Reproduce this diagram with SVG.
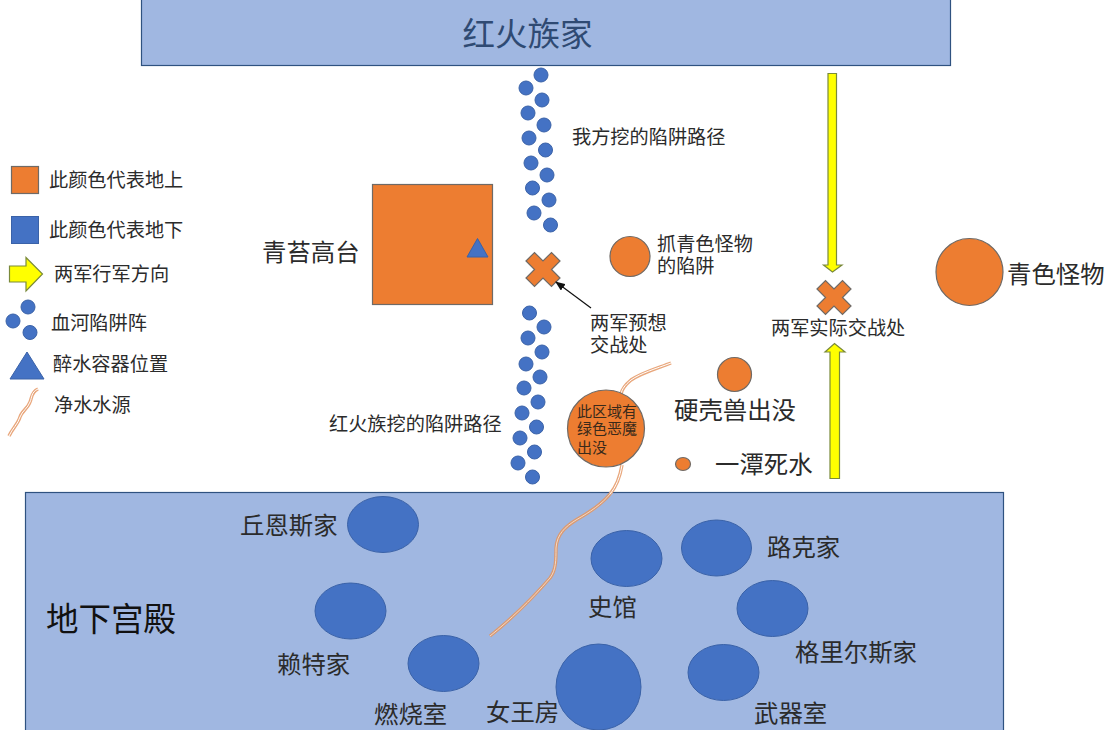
<svg xmlns="http://www.w3.org/2000/svg" width="1110" height="730" viewBox="0 0 1110 730">
<style>
text{font-family:"Liberation Sans","Noto Sans CJK SC",sans-serif;fill:#2b2b2b}
.s{font-size:19.200px}.m{font-size:24.400px}.t{font-size:15px}
.panel{fill:#a0b7e1;stroke:#2f5280;stroke-width:1.2}
.o{fill:#ed7d31;stroke:#6f6a66;stroke-width:1.2}
.b{fill:#4472c4;stroke:#3a62a8;stroke-width:1}
.y{fill:#ffff00;stroke:#7a8a3a;stroke-width:1.2}
.w1{fill:none;stroke:#e9a77c;stroke-width:3.4}
.w2{fill:none;stroke:#fff;stroke-width:1}
.w3{fill:none;stroke:#d99a74;stroke-width:3.4}
.w4{fill:none;stroke:#f3d9c5;stroke-width:1}
</style>
<defs>
<marker id="ah" markerWidth="10" markerHeight="8" refX="9" refY="4" orient="auto" markerUnits="userSpaceOnUse"><path d="M0 0L10 4L0 8z" fill="#111"/></marker>
<circle id="d" r="7" class="b"/>
<path id="x" d="M-17 -8.500L-8.500 -17L0 -8.500L8.500 -17L17 -8.500L8.500 0L17 8.500L8.500 17L0 8.500L-8.500 17L-17 8.500L-8.500 0z" class="o"/>
</defs>
<rect width="1110" height="730" fill="#fff"/>

<g id="red-fire-home"><rect class="panel" x="141.500" y="-2" width="809" height="67.500"/><text x="527.500" y="46" font-size="32.500" text-anchor="middle" style="fill:#2f4a73">红火族家</text></g>
<g id="underground-palace"><rect class="panel" x="25.500" y="492.500" width="978" height="240"/><text x="46" y="631" font-size="32.500" style="fill:#111">地下宫殿</text></g>

<g id="legend">
<rect x="11.500" y="166.500" width="27" height="27" class="o"/><text class="s" x="49" y="187">此颜色代表地上</text>
<rect x="11.500" y="216.500" width="27" height="27" class="b"/><text class="s" x="49" y="237">此颜色代表地下</text>
<path class="y" d="M9.500 266H26V257.500L42.500 274L26 291V282H9.500z"/><text class="s" x="54" y="281">两军行军方向</text>
<use href="#d" x="28" y="307"/><use href="#d" x="13" y="321"/><use href="#d" x="30" y="332.500"/><text class="s" x="51" y="330">血河陷阱阵</text>
<path class="b" d="M10 379L27 352L44 379z"/><text class="s" x="53" y="371">醉水容器位置</text>
<g><path class="w1" d="M38 389C31 392 32 398 30 402C28 408 22 411 20 417C18 424 12 429 9 436"/><path class="w2" d="M38 389C31 392 32 398 30 402C28 408 22 411 20 417C18 424 12 429 9 436"/></g><text class="s" x="54" y="412">净水水源</text>
</g>

<g id="my-trap-path">
<use href="#d" x="541" y="75"/><use href="#d" x="526" y="88"/><use href="#d" x="542" y="100"/><use href="#d" x="528" y="113"/><use href="#d" x="544" y="125"/><use href="#d" x="529" y="138"/><use href="#d" x="545.500" y="150"/><use href="#d" x="531" y="163"/><use href="#d" x="547" y="175"/><use href="#d" x="532.500" y="188"/><use href="#d" x="549" y="200"/><use href="#d" x="534" y="213"/><use href="#d" x="550.500" y="225"/>
<text class="s" x="572" y="144">我方挖的陷阱路径</text>
</g>
<g id="enemy-trap-path">
<use href="#d" x="529.500" y="313"/><use href="#d" x="544" y="327"/><use href="#d" x="528" y="338"/><use href="#d" x="542" y="352"/><use href="#d" x="526" y="364"/><use href="#d" x="540" y="377"/><use href="#d" x="524" y="388"/><use href="#d" x="538" y="402"/><use href="#d" x="522" y="413"/><use href="#d" x="536.500" y="427"/><use href="#d" x="520" y="438"/><use href="#d" x="534.500" y="452"/><use href="#d" x="518" y="463"/><use href="#d" x="532.500" y="477"/>
<text class="s" x="329" y="431">红火族挖的陷阱路径</text>
</g>

<g id="moss-platform"><rect class="o" x="372.500" y="184.500" width="120" height="120"/><path class="b" d="M467 257L477.500 238.500L488 257z"/><text class="m" x="262" y="261">青苔高台</text></g>
<g id="expected-battle"><use href="#x" x="543" y="269.500"/><text class="s" x="590" y="330">两军预想</text><text class="s" x="590" y="352">交战处</text></g>
<g id="cyan-trap"><circle class="o" cx="630" cy="256.500" r="20"/><text class="s" x="657" y="251">抓青色怪物</text><text class="s" x="657" y="273">的陷阱</text></g>
<g id="cyan-monster"><circle class="o" cx="969.500" cy="272" r="33.500"/><text class="m" x="1007" y="283">青色怪物</text></g>
<g id="actual-battle"><use href="#x" x="834" y="297.500"/><text class="s" x="771" y="335">两军实际交战处</text></g>
<g id="shell-beast"><circle class="o" cx="734.500" cy="374.500" r="17"/><text class="m" x="674" y="419">硬壳兽出没</text></g>
<g id="dead-water"><ellipse class="o" cx="683" cy="464" rx="7.500" ry="6.500"/><text class="m" x="715" y="473">一潭死水</text></g>

<g id="connectors">
<path class="y" d="M828 73.500H836.500V265H842L832.500 272L823.500 265H828z"/>
<path class="y" d="M830 478.500V352H825L834.500 343.500L845 352H839.500V478.500z"/>
<path d="M591 308L556 282" fill="none" stroke="#111" stroke-width="1.200" marker-end="url(#ah)"/>
<g id="clean-water">
<path class="w1" d="M671 363C655 369 641 373 631 380C625 385 622 389 621 394M622 465C620 477 616 487 610 494"/>
<path class="w2" d="M671 363C655 369 641 373 631 380C625 385 622 389 621 394M622 465C620 477 616 487 610 494"/>
<path class="w3" d="M610 494C602 504 590 512 576 520C565 527 557 534 556 548C556 560 556 570 550 578C530 601 510 620 490 636"/>
<path class="w4" d="M610 494C602 504 590 512 576 520C565 527 557 534 556 548C556 560 556 570 550 578C530 601 510 620 490 636"/>
</g>
</g>

<g id="green-demon"><circle class="o" cx="606" cy="428.500" r="38.500"/><text class="t" x="577" y="417" style="fill:#3a2a1a">此区域有</text><text class="t" x="577" y="434" style="fill:#3a2a1a">绿色恶魔</text><text class="t" x="577" y="453" style="fill:#3a2a1a">出没</text></g>

<g id="chuens-home"><ellipse class="b" cx="383" cy="524.500" rx="35.500" ry="28"/><text class="m" x="240" y="534">丘恩斯家</text></g>
<g id="history-hall"><ellipse class="b" cx="626.500" cy="558.500" rx="35.500" ry="28"/><text class="m" x="588" y="616">史馆</text></g>
<g id="luke-home"><ellipse class="b" cx="716.500" cy="548" rx="35" ry="28"/><text class="m" x="767" y="556">路克家</text></g>
<g id="wright-home"><ellipse class="b" cx="350.500" cy="611" rx="35.500" ry="28"/><text class="m" x="277" y="673">赖特家</text></g>
<g id="gerace-home"><ellipse class="b" cx="772.500" cy="608.500" rx="35.500" ry="28"/><text class="m" x="795" y="661">格里尔斯家</text></g>
<g id="burn-room"><ellipse class="b" cx="443.500" cy="663.500" rx="35.500" ry="28"/><text class="m" x="374" y="723">燃烧室</text></g>
<g id="queen-room"><ellipse class="b" cx="598.500" cy="687" rx="42.500" ry="43"/><text class="m" x="486" y="721">女王房</text></g>
<g id="armory"><ellipse class="b" cx="723.500" cy="672.500" rx="35.500" ry="28"/><text class="m" x="754" y="722">武器室</text></g>
</svg>
